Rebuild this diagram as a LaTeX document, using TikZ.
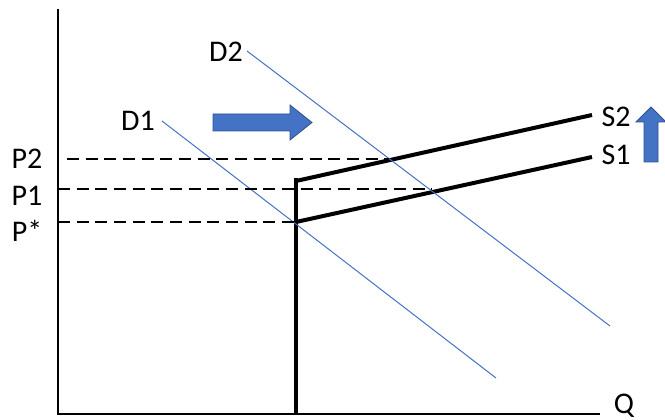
\documentclass[tikz,border=0pt]{standalone}
\usepackage{fontspec}
\setmainfont{Carlito}
\definecolor{dblue}{HTML}{4472C4}
\definecolor{dedge}{HTML}{2F528F}
\begin{document}
\begin{tikzpicture}[x=0.75pt,y=-0.75pt,
  lbl/.style={font=\fontsize{22.5}{26}\selectfont, anchor=base, inner sep=0pt},
  axisline/.style={line width=1.1pt},
  supply/.style={line width=3pt},
  demand/.style={draw=dblue, line width=0.75pt},
  guide/.style={line width=1.5pt, dash pattern=on 9pt off 5pt},
  shiftarrow/.style={fill=dblue, draw=dedge, line width=0.6pt}]
\useasboundingbox (0,0) rectangle (665,420);
% axes
\coordinate (origin) at (58,414);
\coordinate (ytop) at (58,9);
\coordinate (xend) at (600,414);
\draw[axisline] (ytop) -- (origin) -- (xend);
\node[lbl] (Q) at (624,414) {Q};
% price labels
\node[lbl] (P2) at (27,169) {P2};
\node[lbl] (P1) at (27,206) {P1};
\node[lbl] (Ps) at (27,242) {P*};
% supply
\coordinate (vb) at (296,413);
\coordinate (vt) at (296,178);
\coordinate (s2a) at (296,181);
\coordinate (s2b) at (592,115);
\coordinate (s1a) at (296,222);
\coordinate (s1b) at (592,157);
\draw[supply] (vb) -- (vt);
\draw[supply] (s2a) -- (s2b);
\draw[supply] (s1a) -- (s1b);
\node[lbl] (S2) at (616,127) {S2};
\node[lbl] (S1) at (616,165) {S1};
% demand
\coordinate (d1a) at (162,121);
\coordinate (d1b) at (496,378);
\coordinate (d2a) at (247,51);
\coordinate (d2b) at (610,326);
\draw[demand] (d1a) -- (d1b);
\draw[demand] (d2a) -- (d2b);
\node[lbl] (D1) at (138,131) {D1};
\node[lbl] (D2) at (226,62) {D2};
% guides
\coordinate (g2a) at (67,159);
\coordinate (g2b) at (389,159);
\coordinate (g1a) at (58,189);
\coordinate (g1b) at (432,189);
\coordinate (gsa) at (58,222);
\coordinate (gsb) at (296,222);
\draw[guide] (g2a) -- (g2b);
\draw[guide] (g1a) -- (g1b);
\draw[guide] (gsa) -- (gsb);
% shift arrows
\draw[shiftarrow] (213,114) -- (290,114) -- (290,105) -- (312,122.5) -- (290,140) -- (290,131) -- (213,131) -- cycle;
\begin{scope}
\clip (0,0) rectangle (665,420);
\draw[shiftarrow] (644,162) -- (644,122) -- (636,122) -- (651,107) -- (666,122) -- (658,122) -- (658,162) -- cycle;
\end{scope}
\end{tikzpicture}
\end{document}
